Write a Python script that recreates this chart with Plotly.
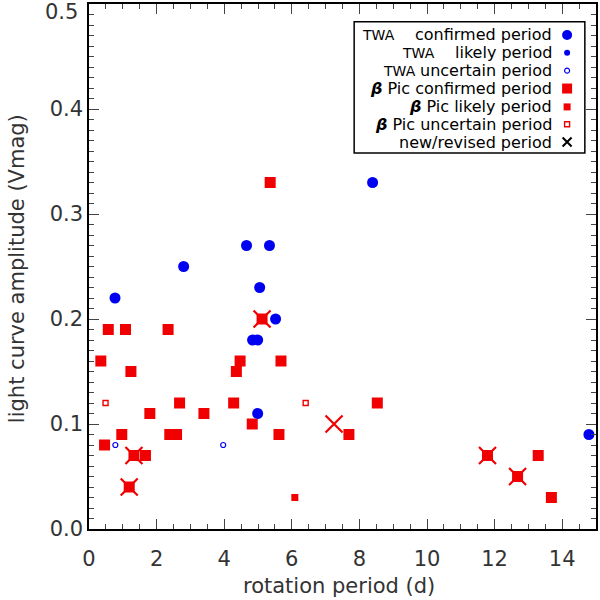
import plotly.graph_objects as go

# ---- data ----
twa_conf_period = [0.77, 2.80, 4.66, 5.34, 5.05, 5.52, 4.84, 4.99, 4.99, 8.39, 14.79]
twa_conf_amp    = [0.22, 0.25, 0.27, 0.27, 0.23, 0.20, 0.18, 0.18, 0.11, 0.33, 0.09]

twa_unc_period = [0.78, 3.97]
twa_unc_amp    = [0.08, 0.08]

bpic_conf_period = [0.35, 0.46, 0.57, 0.97, 1.08, 1.19, 1.24, 1.33, 1.67, 1.80,
                    2.34, 2.39, 2.59, 2.68, 3.40, 4.28, 4.36, 4.47, 4.83, 5.12,
                    5.36, 5.62, 5.68, 7.69, 8.53, 11.79, 12.68, 13.29, 13.68]
bpic_conf_amp    = [0.16, 0.08, 0.19, 0.09, 0.19, 0.04, 0.15, 0.07, 0.07, 0.11,
                    0.19, 0.09, 0.09, 0.12, 0.11, 0.12, 0.15, 0.16, 0.10, 0.20,
                    0.33, 0.09, 0.16, 0.09, 0.12, 0.07, 0.05, 0.07, 0.03]

bpic_likely_period = [6.09]
bpic_likely_amp    = [0.03]

bpic_unc_period = [0.49, 6.41]
bpic_unc_amp    = [0.12, 0.12]

new_period = [1.19, 1.33, 5.12, 7.25, 11.79, 12.68]
new_amp    = [0.04, 0.07, 0.20, 0.10, 0.07, 0.05]

x_ticks = [0, 2, 4, 6, 8, 10, 12, 14]
y_ticks = [0.0, 0.1, 0.2, 0.3, 0.4, 0.5]

legend_prefix = ["TWA", "TWA", "TWA", "", "", "", ""]
legend_labels = [
    "confirmed period",
    "likely period",
    "uncertain period",
    "<b><i>β</i></b> Pic confirmed period",
    "<b><i>β</i></b> Pic likely period",
    "<b><i>β</i></b> Pic uncertain period",
    "new/revised period",
]

BLUE = "#0000f0"
RED = "#f00000"
FONT = "DejaVu Sans"
TXT = "#333333"
X_RANGE = [0, 15]
Y_RANGE = [0, 0.5]

styles = [
    dict(symbol="circle", size=10, color=BLUE),
    dict(symbol="circle", size=6, color=BLUE),
    dict(symbol="circle-open", size=5, color=BLUE, line=dict(width=1.2, color=BLUE)),
    dict(symbol="square", size=10, color=RED),
    dict(symbol="square", size=7, color=RED),
    dict(symbol="square-open", size=5, color=RED, line=dict(width=1.4, color=RED)),
    dict(symbol="x-thin-open", size=9, color="black", line=dict(width=2, color="black")),
]

fig = go.Figure()

fig.add_trace(go.Scatter(x=bpic_conf_period, y=bpic_conf_amp, mode="markers",
                         marker=dict(symbol="square", size=11, color=RED, line=dict(width=0)),
                         showlegend=False))
fig.add_trace(go.Scatter(x=bpic_likely_period, y=bpic_likely_amp, mode="markers",
                         marker=dict(symbol="square", size=7, color=RED, line=dict(width=0)),
                         showlegend=False))
fig.add_trace(go.Scatter(x=bpic_unc_period, y=bpic_unc_amp, mode="markers",
                         marker=dict(symbol="square-open", size=5, color=RED,
                                     line=dict(width=1.4, color=RED)),
                         showlegend=False))
fig.add_trace(go.Scatter(x=twa_conf_period, y=twa_conf_amp, mode="markers",
                         marker=dict(symbol="circle", size=11, color=BLUE, line=dict(width=0)),
                         showlegend=False))
fig.add_trace(go.Scatter(x=twa_unc_period, y=twa_unc_amp, mode="markers",
                         marker=dict(symbol="circle-open", size=5, color=BLUE,
                                     line=dict(width=1.2, color=BLUE)),
                         showlegend=False))
fig.add_trace(go.Scatter(x=new_period, y=new_amp, mode="markers",
                         marker=dict(symbol="x-thin-open", size=17, color=RED,
                                     line=dict(width=2.2, color=RED)),
                         showlegend=False))

# ---- custom legend (symbols to the right of right-aligned text) ----
row_frac = [0.941, 0.907, 0.873, 0.839, 0.804, 0.771, 0.737]
prefix_left = [0.534, 0.613, 0.576]
sym_frac = 0.943
text_frac = 0.918
for i, (lbl, st, ry) in enumerate(zip(legend_labels, styles, row_frac)):
    fig.add_trace(go.Scatter(x=[X_RANGE[0] + sym_frac * (X_RANGE[1] - X_RANGE[0])],
                             y=[Y_RANGE[0] + ry * (Y_RANGE[1] - Y_RANGE[0])],
                             mode="markers", marker=st, showlegend=False, hoverinfo="skip"))
    fig.add_annotation(xref="paper", yref="paper", x=text_frac, y=ry, text=lbl,
                       showarrow=False, xanchor="right", yanchor="middle",
                       font=dict(family=FONT, size=16, color="black"))
    if legend_prefix[i]:
        fig.add_annotation(xref="paper", yref="paper", x=prefix_left[i], y=ry,
                           text=legend_prefix[i], showarrow=False, xanchor="left",
                           yanchor="middle", font=dict(family=FONT, size=14, color="black"))

fig.add_shape(type="rect", xref="paper", yref="paper", x0=0.523, x1=0.978,
              y0=0.716, y1=0.966, line=dict(color="black", width=1.5),
              fillcolor="white", layer="below")

# axis titles and the top y label (placed as in the reference)
fig.add_annotation(xref="paper", yref="paper", x=0.493, y=-0.108, text="rotation period (d)",
                   showarrow=False, xanchor="center", yanchor="middle",
                   font=dict(family=FONT, size=21, color=TXT))
fig.add_annotation(xref="paper", yref="paper", x=-0.142, y=0.495,
                   text="light curve amplitude (Vmag)", textangle=-90,
                   showarrow=False, xanchor="center", yanchor="middle",
                   font=dict(family=FONT, size=21, color=TXT))
fig.add_annotation(xref="paper", yref="paper", x=-0.018, y=0.984, text="0.5",
                   showarrow=False, xanchor="right", yanchor="middle",
                   font=dict(family=FONT, size=21, color=TXT))

axis_common = dict(
    showgrid=False, zeroline=False, showline=True, linecolor="black", linewidth=1.5,
    mirror="allticks", ticks="inside", tickcolor="#444", tickwidth=1.3, ticklen=10,
    tickfont=dict(family=FONT, size=21, color=TXT), automargin=False,
)

fig.update_layout(
    width=600, height=600,
    margin=dict(l=89, r=4, t=4, b=71),
    paper_bgcolor="white", plot_bgcolor="white",
    xaxis=dict(range=X_RANGE, tickvals=x_ticks, ticktext=[str(v) for v in x_ticks],
               minor=dict(dtick=0.5, tick0=0, ticklen=5, ticks="inside",
                          tickcolor="#444", tickwidth=1.3),
               ticklabelstandoff=10,
               **axis_common),
    yaxis=dict(range=Y_RANGE, tickvals=y_ticks,
               ticktext=["%.1f" % v if v < 0.45 else "" for v in y_ticks],
               minor=dict(dtick=0.01, tick0=0, ticklen=5, ticks="inside",
                          tickcolor="#444", tickwidth=1.3),
               ticklabelstandoff=0,
               **axis_common),
)

fig.write_html("out.html", config={"displayModeBar": False},
               post_script="document.body.style.margin='0';document.body.style.padding='0';")
